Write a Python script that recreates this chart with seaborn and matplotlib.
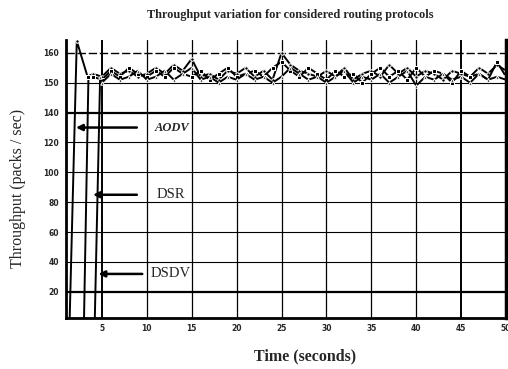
import numpy as np
import pandas as pd
import matplotlib
matplotlib.use("Agg")
import matplotlib.pyplot as plt
import seaborn as sns

sns.set_style("white")
plt.rcParams['font.family'] = ['Liberation Serif', 'DejaVu Serif']

# ---- data ----
aodv_t = [1.4, 2.2, 3.4, 4, 5, 6, 7, 8, 9, 10, 11, 12, 13, 14, 15, 16, 17, 18, 19, 20,
          21, 22, 23, 24, 25, 26, 27, 28, 29, 30, 31, 32, 33, 34, 35, 36, 37, 38, 39, 40,
          41, 42, 43, 44, 45, 46, 47, 48, 49, 50]
aodv_v = [0, 164, 152, 153, 152, 155, 153, 154, 152, 153, 155, 153, 156, 154, 158, 152, 153, 151, 154, 153,
          155, 152, 154, 151, 160, 156, 154, 153, 152, 154, 152, 155, 151, 153, 154, 152, 156, 153, 155, 152,
          154, 153, 151, 154, 153, 152, 155, 153, 156, 154]

dsr_t = [3.0, 3.5, 4, 5, 6, 7, 8, 9, 10, 11, 12, 13, 14, 15, 16, 17, 18, 19, 20,
         21, 22, 23, 24, 25, 26, 27, 28, 29, 30, 31, 32, 33, 34, 35, 36, 37, 38, 39, 40,
         41, 42, 43, 44, 45, 46, 47, 48, 49, 50]
dsr_v = [0, 152, 152, 151, 154, 152, 155, 153, 152, 154, 152, 155, 153, 152, 154, 151, 153, 155, 152,
         153, 154, 152, 155, 157, 154, 152, 155, 153, 151, 154, 152, 153, 150, 153, 155, 152, 154, 151, 155,
         152, 154, 153, 150, 154, 152, 153, 151, 157, 152]

dsdv_t = [4.2, 4.8, 5, 6, 7, 8, 9, 10, 11, 12, 13, 14, 15, 16, 17, 18, 19, 20,
          21, 22, 23, 24, 25, 26, 27, 28, 29, 30, 31, 32, 33, 34, 35, 36, 37, 38, 39, 40,
          41, 42, 43, 44, 45, 46, 47, 48, 49, 50]
dsdv_v = [0, 152, 150, 153, 151, 152, 154, 151, 152, 154, 151, 153, 155, 151, 152, 150, 152, 151,
          153, 151, 152, 150, 152, 155, 153, 151, 152, 150, 152, 154, 150, 152, 151, 153, 150, 152, 154, 149,
          152, 151, 153, 151, 152, 150, 153, 151, 152, 151]

protocols = ["AODV", "DSR", "DSDV"]
y_ticks = [20, 40, 60, 80, 100, 120, 140, 150, 160]
x_ticks = [5, 10, 15, 20, 25, 30, 35, 40, 45, 50]

df = pd.concat([
    pd.DataFrame({"t": aodv_t, "v": aodv_v, "p": "AODV"}),
    pd.DataFrame({"t": dsr_t, "v": dsr_v, "p": "DSR"}),
    pd.DataFrame({"t": dsdv_t, "v": dsdv_v, "p": "DSDV"}),
])

def fwd(y):
    y = np.asarray(y, dtype=float)
    return np.where(y <= 140, y, 140 + 2 * (y - 140))

def inv(t):
    t = np.asarray(t, dtype=float)
    return np.where(t <= 140, t, 140 + (t - 140) / 2)

fig = plt.figure(figsize=(5.08, 3.69), dpi=100)
ax = fig.add_axes([66/508, 1 - 318/369, (506-66)/508, (318-40)/369])
ax.set_yscale("function", functions=(fwd, inv))

sns.lineplot(data=df, x="t", y="v", hue="p", style="p", hue_order=protocols,
             style_order=protocols, palette=["black"]*3, markers=["o", "s", "^"],
             dashes=False, markersize=2.5, linewidth=1.4, sort=False,
             estimator=None, legend=False, ax=ax)

ax.set_xlim(1, 50)
ax.set_ylim(2.5, 164.3)

# grid
for yv in y_ticks:
    if yv == 160:
        ax.axhline(yv, color="black", lw=1.0, ls=(0, (6, 2)), zorder=0)
    elif yv in (20, 140):
        ax.axhline(yv, color="black", lw=1.6, zorder=0)
    else:
        ax.axhline(yv, color="black", lw=0.8, zorder=0)
for xv in x_ticks[:-1]:
    ax.axvline(xv, color="black", lw=1.4 if xv in (5, 45) else 0.9, zorder=0)

ax.set_yticks(y_ticks)
ax.set_yticklabels([str(v) for v in y_ticks])
ax.set_xticks(x_ticks)
ax.set_xticklabels([str(v) for v in x_ticks])
ax.yaxis.set_minor_locator(matplotlib.ticker.NullLocator())
for lab in ax.get_xticklabels() + ax.get_yticklabels():
    lab.set_fontfamily("DejaVu Sans")
    lab.set_fontweight("bold")
    lab.set_fontsize(5.5)
ax.tick_params(axis="x", length=0, pad=4)
ax.tick_params(axis="y", length=0, pad=5)

for side in ["left", "bottom", "right"]:
    ax.spines[side].set_visible(True)
    ax.spines[side].set_color("black")
ax.spines["left"].set_linewidth(2.0)
ax.spines["bottom"].set_linewidth(2.0)
ax.spines["right"].set_linewidth(2.5)
ax.spines["top"].set_visible(False)

# annotations
arrow = dict(arrowstyle="-|>", color="black", lw=1.8, mutation_scale=9)
ax.annotate("", xy=(1.8, 130), xytext=(9.2, 130), arrowprops=arrow)
ax.annotate("", xy=(3.7, 85), xytext=(9.2, 85), arrowprops=arrow)
ax.annotate("", xy=(4.3, 32), xytext=(9.8, 32), arrowprops=arrow)
ax.text(10.9, 130, "AODV", fontsize=9, fontweight="bold", fontstyle="italic", va="center", ha="left")
ax.text(11.1, 85, "DSR", fontsize=10.5, va="center", ha="left")
ax.text(10.4, 32, "DSDV", fontsize=10.5, va="center", ha="left")

ax.set_xlabel("")
ax.set_ylabel("")
fig.text(305/508, 1 - 356/369, "Time (seconds)", fontsize=11.5, fontweight="bold",
         ha="center", va="center")
fig.text(18/508, 1 - 188/369, "Throughput (packs / sec)", fontsize=11.5,
         rotation=90, ha="center", va="center")
fig.text(290/508, 1 - 15/369, "Throughput variation for considered routing protocols",
         fontsize=8.8, fontweight="bold", ha="center", va="center")

fig.savefig("out.png", dpi=100, facecolor="white")
